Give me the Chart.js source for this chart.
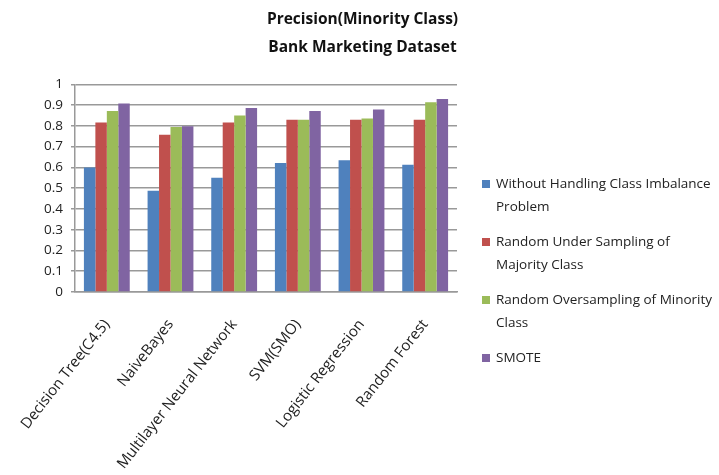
<!DOCTYPE html>
<html>
<head>
<meta charset="utf-8">
<script src="https://cdn.jsdelivr.net/npm/chart.js@4/dist/chart.umd.min.js"></script>
<style>
  body { margin: 0; background: #fff; }
  #wrap { position: relative; width: 719px; height: 475px; }
  #legend {
    position: absolute; left: 482px; top: 172px; width: 235px;
    font-family: "Open Sans", sans-serif; font-size: 13.5px; color: #222;
  }
  #legend .item { display: flex; align-items: flex-start; margin-bottom: 12px; line-height: 23px; }
  #legend .sw { width: 8px; height: 8px; margin: 8px 6px 0 0; flex: none; }
</style>
</head>
<body>
<div id="wrap">
  <canvas id="precisionChart" width="719" height="475"></canvas>
  <div id="legend"></div>
</div>
<script>
const categories = ["Decision Tree(C4.5)", "NaiveBayes", "Multilayer Neural Network", "SVM(SMO)", "Logistic Regression", "Random Forest"];
const seriesNames = [
  "Without Handling Class Imbalance Problem",
  "Random Under Sampling of Majority Class",
  "Random Oversampling of Minority Class",
  "SMOTE"
];
const withoutHandling = [0.600, 0.487, 0.550, 0.621, 0.635, 0.613];
const underSampling   = [0.816, 0.757, 0.816, 0.829, 0.829, 0.829];
const overSampling    = [0.872, 0.795, 0.850, 0.829, 0.835, 0.914];
const smote           = [0.908, 0.798, 0.886, 0.872, 0.879, 0.929];
const yTicks = [0, 0.1, 0.2, 0.3, 0.4, 0.5, 0.6, 0.7, 0.8, 0.9, 1];

const colors = ["#4F81BD", "#C0504D", "#9BBB59", "#8064A2"];
const allSeries = [withoutHandling, underSampling, overSampling, smote];

const font = "'Open Sans', sans-serif";

const datasets = allSeries.map((values, i) => ({
  label: seriesNames[i],
  data: values,
  backgroundColor: colors[i],
  borderWidth: 0,
  categoryPercentage: 0.72,
  barPercentage: 1.0
}));

// legend on the right, wrapped onto two lines per entry
const legendBox = document.getElementById("legend");
const legendLines = [
  ["Without Handling Class Imbalance", "Problem"],
  ["Random Under Sampling  of", "Majority Class"],
  ["Random Oversampling of Minority", "Class"],
  ["SMOTE"]
];
legendLines.forEach((lines, i) => {
  const item = document.createElement("div");
  item.className = "item";
  const sw = document.createElement("span");
  sw.className = "sw";
  sw.style.background = colors[i];
  const txt = document.createElement("span");
  txt.innerHTML = lines.join("<br>");
  item.appendChild(sw);
  item.appendChild(txt);
  legendBox.appendChild(item);
});

new Chart(document.getElementById("precisionChart").getContext("2d"), {
  type: "bar",
  data: { labels: categories, datasets },
  options: {
    responsive: false,
    animation: false,
    layout: { padding: { left: 6, right: 0, top: 0, bottom: 0 } },
    plugins: {
      legend: { display: false },
      tooltip: { enabled: false },
      title: {
        display: true,
        text: ["Precision(Minority Class)", "Bank Marketing Dataset"],
        color: "#111",
        font: { family: font, size: 15.5, weight: "bold", lineHeight: 1.85 },
        padding: { top: 5, bottom: 22 }
      }
    },
    scales: {
      x: {
        grid: { display: false, drawTicks: false },
        border: { color: "#999", width: 1.5 },
        ticks: {
          color: "#222",
          font: { family: font, size: 15 },
          minRotation: 52,
          maxRotation: 52,
          padding: 24
        },
        afterFit: scale => {
          scale.height = 183;
          // let the slanted first label hang past the axis instead of shifting the plot
          scale.paddingLeft = 0;
          scale.paddingRight = 0;
        }
      },
      y: {
        min: 0,
        max: 1,
        afterBuildTicks: scale => { scale.ticks = yTicks.map(v => ({ value: v })); },
        grid: { color: "#999", lineWidth: 1.5, tickLength: 4 },
        border: { color: "#999", width: 1.5 },
        ticks: {
          color: "#222",
          font: { family: font, size: 13.5 },
          padding: 8,
          callback: v => String(v)
        },
        afterFit: scale => { scale.width = 69; }
      },
      // empty right-hand axis that reserves room for the legend
      side: {
        position: "right",
        display: true,
        grid: { display: false, drawTicks: false },
        border: { display: false },
        ticks: { display: false },
        afterFit: scale => { scale.width = 262; }
      }
    }
  }
});
</script>
</body>
</html>
